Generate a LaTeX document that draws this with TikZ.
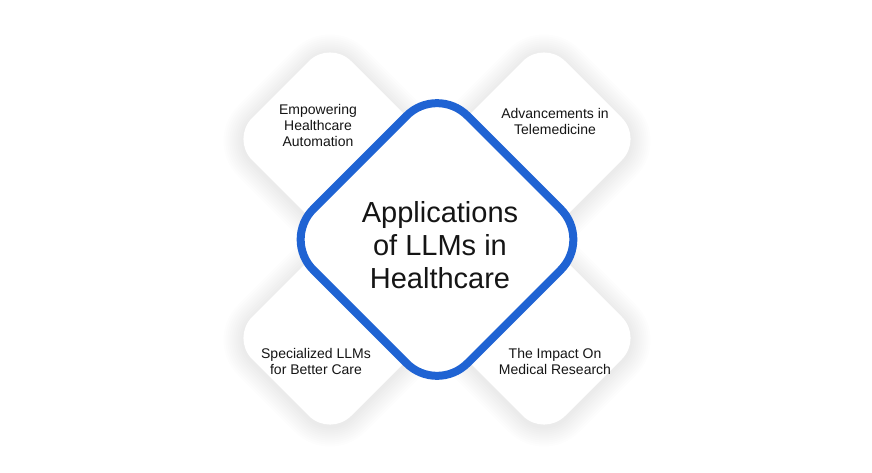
\documentclass[tikz,border=0pt]{standalone}
\usepackage{fontspec}
\setmainfont{Liberation Sans}
\begin{document}
\begin{tikzpicture}[x=1pt,y=-1pt]
\definecolor{hcblue}{HTML}{1F63D3}
\definecolor{txt}{HTML}{151515}
\tikzset{
 petal/.style={rotate=45, minimum size=140pt, inner sep=0pt, rounded corners=30pt, fill=white},
 core/.style={rotate=45, minimum size=218pt, inner sep=0pt, rounded corners=43pt, fill=white, draw=hcblue, line width=8pt},
 smalltxt/.style={font=\fontsize{14}{16}\selectfont, align=center, text=txt},
 bigtxt/.style={font=\fontsize{29}{33}\selectfont, align=center, text=txt},
}
\useasboundingbox[fill=white] (0,0) rectangle (872,473);
% soft shadows of the four petals
\foreach \c in {(330,141),(544,141),(330,340),(544,340)}{
  \foreach \i [evaluate=\i as \s using 70+2*\i, evaluate=\i as \r using 30+2*\i] in {1,...,10}{
    \fill[black, opacity=0.008, shift={\c}, rotate=45, rounded corners=\r pt] (-\s,-\s) rectangle (\s,\s);
  }
}
\node[petal] (p1) at (330,139) {};
\node[petal] (p2) at (544,139) {};
\node[petal] (p3) at (330,338) {};
\node[petal] (p4) at (544,338) {};
\node[core] (c) at (437,239.5) {};
\node[bigtxt] (ct) at (440,245) {Applications\\of LLMs in\\Healthcare};
\node[smalltxt] (t1) at (318,125) {Empowering\\Healthcare\\Automation};
\node[smalltxt] (t2) at (555,121) {Advancements in\\Telemedicine};
\node[smalltxt] (t3) at (316,361) {Specialized LLMs\\for Better Care};
\node[smalltxt] (t4) at (555,361) {The Impact On\\Medical Research};
\end{tikzpicture}
\end{document}
